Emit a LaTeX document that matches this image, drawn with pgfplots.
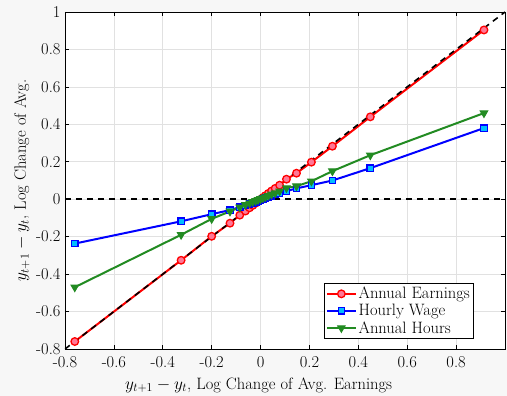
\documentclass[border=0pt]{standalone}
\usepackage{fontspec}
\usepackage{pgfplots}
\pgfplotsset{compat=1.18}
\definecolor{figbg}{RGB}{247,247,247}
\definecolor{gridc}{RGB}{225,225,225}
\definecolor{mgreen}{RGB}{34,139,34}
\definecolor{pinkfill}{RGB}{255,120,150}
\definecolor{cyanfill}{RGB}{0,190,255}
\begin{document}
\begin{tikzpicture}
\fill[figbg] (-65pt,-47pt) rectangle (442pt,349pt);
\begin{axis}[
  scale only axis, width=440pt, height=337pt,
  at={(0,0)}, anchor=south west,
  xmin=-0.8, xmax=1, ymin=-0.8, ymax=1,
  xtick={-0.8,-0.6,-0.4,-0.2,0,0.2,0.4,0.6,0.8},
  xticklabels={-0.8,-0.6,-0.4,-0.2,0,0.2,0.4,0.6,0.8},
  ytick={-0.8,-0.6,-0.4,-0.2,0,0.2,0.4,0.6,0.8,1},
  yticklabels={-0.8,-0.6,-0.4,-0.2,0,0.2,0.4,0.6,0.8,1},
  font=\fontsize{16.5}{19}\selectfont,
  tick label style={font=\fontsize{16.5}{19}\selectfont},
  xticklabel style={yshift=-4pt},
  yticklabel style={xshift=-1pt},
  axis background/.style={fill=white},
  grid=major, major grid style={gridc, line width=0.7pt},
  tick align=inside, tick pos=both, major tick length=4pt,
  tick style={black, line width=0.7pt},
  axis line style={black, line width=0.8pt},
  xlabel={$y_{t+1}-y_t$, Log Change of Avg. Earnings},
  ylabel={$y_{t+1}-y_t$, Log Change of Avg.},
  xlabel style={at={(rel axis cs:0.44,0)}, anchor=north, yshift=-25pt},
  ylabel style={at={(rel axis cs:0,0.5)}, anchor=south, yshift=32pt},
  legend style={at={(rel axis cs:0.93,0.03)}, anchor=south east, fill=white, draw=black, line width=0.7pt, font=\fontsize{16.5}{19}\selectfont, row sep=0pt, inner sep=2pt},
  legend cell align=left,
  legend image code/.code={\draw[mark repeat=2,mark phase=2,#1] plot coordinates {(0cm,0cm)(0.5cm,0cm)(1cm,0cm)};},
  clip=true,
]
\addplot[red, line width=2pt, mark=*, mark size=3.8pt, mark options={draw=red, fill=pinkfill, line width=1.3pt}] coordinates {
(-0.76,-0.76) (-0.325,-0.326) (-0.2,-0.198) (-0.125,-0.128) (-0.085,-0.085) (-0.062,-0.063) (-0.045,-0.046) (-0.032,-0.033) (-0.02,-0.021) (-0.01,-0.011) (0.0,-0.001) (0.01,0.009) (0.02,0.019) (0.032,0.031) (0.045,0.044) (0.06,0.058) (0.078,0.075) (0.106,0.107) (0.147,0.139) (0.208,0.198) (0.294,0.283) (0.449,0.44) (0.914,0.904)};
\addlegendentry{Annual Earnings}
\addplot[blue, line width=2pt, mark=square*, mark size=3.2pt, mark options={fill=cyanfill, draw=blue, line width=1.3pt}] coordinates {
(-0.76,-0.237) (-0.325,-0.118) (-0.2,-0.08) (-0.125,-0.058) (-0.085,-0.042) (-0.062,-0.033) (-0.045,-0.025) (-0.032,-0.019) (-0.02,-0.013) (-0.01,-0.008) (0.0,-0.003) (0.01,0.002) (0.02,0.007) (0.032,0.012) (0.045,0.018) (0.06,0.025) (0.078,0.032) (0.106,0.043) (0.147,0.058) (0.208,0.075) (0.294,0.10) (0.449,0.166) (0.914,0.38)};
\addlegendentry{Hourly Wage}
\addplot[mgreen, line width=2pt, mark=triangle*, mark size=4.3pt, mark options={rotate=180, fill=mgreen, line width=1pt}] coordinates {
(-0.76,-0.47) (-0.325,-0.19) (-0.2,-0.105) (-0.125,-0.065) (-0.085,-0.043) (-0.062,-0.03) (-0.045,-0.021) (-0.032,-0.014) (-0.02,-0.008) (-0.01,-0.003) (0.0,0.002) (0.01,0.007) (0.02,0.012) (0.032,0.019) (0.045,0.026) (0.06,0.033) (0.078,0.043) (0.106,0.06) (0.147,0.07) (0.208,0.096) (0.294,0.15) (0.449,0.235) (0.914,0.46)};
\addlegendentry{Annual Hours}
\addplot[black, line width=1.6pt, dash pattern=on 6pt off 5pt, forget plot] coordinates {(-0.8,0) (1,0)};
\addplot[black, line width=1.6pt, dash pattern=on 6pt off 5pt, forget plot] coordinates {(-0.8,-0.8) (1,1)};
\end{axis}
\pgfresetboundingbox
\useasboundingbox (-65pt,-47pt) rectangle (442pt,349pt);
\end{tikzpicture}
\end{document}
